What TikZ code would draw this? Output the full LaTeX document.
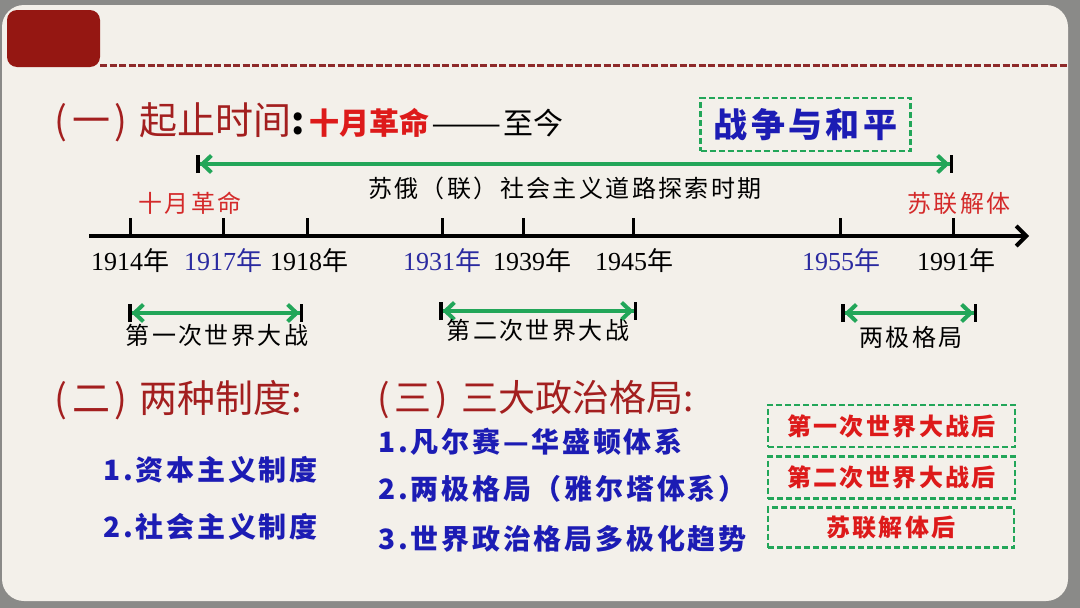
\documentclass[tikz,border=0pt]{standalone}
\usepackage{fontspec}
\setmainfont{Noto Sans CJK SC}
\newfontfamily\numfont{Liberation Serif}
\newfontfamily\widefont[LetterSpace=10]{Noto Sans CJK SC}
\usetikzlibrary{arrows.meta}
\definecolor{pagegray}{HTML}{8A8A88}
\definecolor{slide}{HTML}{F3F0EA}
\definecolor{tagred}{HTML}{951712}
\definecolor{rulered}{HTML}{8E2A2A}
\definecolor{headred}{HTML}{A31F1F}
\definecolor{brightred}{HTML}{DD1A1A}
\definecolor{labelred}{HTML}{D42A2A}
\definecolor{yearblue}{HTML}{2A2AA0}
\definecolor{itemblue}{HTML}{1C1CB4}
\definecolor{spangreen}{HTML}{22A659}
\def\fs#1{\fontsize{#1}{#1}\selectfont}
\def\nian{{\rmfamily 年}}
\def\paren#1{(\kern5pt#1\kern4pt)\hspace{13pt}}
\tikzset{
  head/.style={anchor=west, inner sep=0pt, text=headred, font=\fs{38}},
  item/.style={anchor=west, inner sep=0pt, text=itemblue, font=\fs{28}\widefont\bfseries},
  year/.style={inner sep=0pt, font=\fs{26}\numfont},
  label/.style={inner sep=0pt, font=\fs{24}\widefont},
  tick/.style={line width=3pt},
  axis/.style={line width=4pt, -{Straight Barb[length=10pt,width=20pt]}},
  span/.style={line width=4pt, draw=spangreen,
    {Bar[black,width=18pt,line width=3.5pt]Straight Barb[length=9pt,width=17pt]}-{Straight Barb[length=9pt,width=17pt]Bar[black,width=18pt,line width=3.5pt]}},
  dashbox/.style={draw=spangreen, line width=2.5pt, dash pattern=on 6pt off 3pt, inner sep=0pt}
}

\begin{document}
\begin{tikzpicture}[x=1pt,y=-1pt]
\useasboundingbox (0,0) rectangle (1080,608);
\fill[pagegray] (0,0) rectangle (1080,608);
\fill[slide, rounded corners=22pt] (2,5) rectangle (1068,601);
\node[fill=tagred, rounded corners=10pt, minimum width=93pt, minimum height=57pt, inner sep=0pt] (tag) at (53.5,38.5) {};
\draw[rulered, line width=3pt, dash pattern=on 7pt off 2.5pt] (100,65) -- (1068,65);

% (一) time span
\node[head] (time) at (54,122) {\paren{一}起止时间{\color{black}\bfseries :}\hspace{4pt}{\fs{30}\bfseries\color{brightred}十月革命}{\fs{30}\color{black}\kern2pt\scalebox{1.4}[1]{——}\kern2pt 至今}};
\node[dashbox, minimum width=210pt, minimum height=53pt, text=itemblue, font=\fs{34}\widefont\bfseries] (war) at (805.5,124.5) {战争与和平};

\coordinate (sovA) at (196,164);
\coordinate (sovB) at (953,164);
\draw[span] (sovA) -- (sovB);
\node[label] (sov) at (565,188) {苏俄（联）社会主义道路探索时期};
\node[label, text=labelred] (oct) at (190,203) {十月革命};
\node[label, text=labelred] (ussr) at (959,203) {苏联解体};

% timeline
\coordinate (axL) at (89,236);
\coordinate (axR) at (1029,236);
\draw[axis] (axL) -- (axR);
\coordinate (t1914) at (130,236);
\coordinate (t1917) at (223,236);
\coordinate (t1918) at (307,236);
\coordinate (t1931) at (442,236);
\coordinate (t1939) at (523,236);
\coordinate (t1945) at (633,236);
\coordinate (t1955) at (840,236);
\coordinate (t1991) at (953,236);
\draw[tick] (t1914) -- ++(0,-18);
\draw[tick] (t1917) -- ++(0,-18);
\draw[tick] (t1918) -- ++(0,-18);
\draw[tick] (t1931) -- ++(0,-18);
\draw[tick] (t1939) -- ++(0,-18);
\draw[tick] (t1945) -- ++(0,-18);
\draw[tick] (t1955) -- ++(0,-18);
\draw[tick] (t1991) -- ++(0,-18);
\node[year] (y1914) at (130,261) {1914\nian};
\node[year, text=yearblue] (y1917) at (223,261) {1917\nian};
\node[year] (y1918) at (309,261) {1918\nian};
\node[year, text=yearblue] (y1931) at (442,261) {1931\nian};
\node[year] (y1939) at (532,261) {1939\nian};
\node[year] (y1945) at (634,261) {1945\nian};
\node[year, text=yearblue] (y1955) at (841,261) {1955\nian};
\node[year] (y1991) at (956,261) {1991\nian};

% wars and the two poles
\coordinate (ww1A) at (128,313);
\coordinate (ww1B) at (303,313);
\draw[span] (ww1A) -- (ww1B);
\node[label] (ww1) at (217,335) {第一次世界大战};
\coordinate (ww2A) at (439,311);
\coordinate (ww2B) at (637,311);
\draw[span] (ww2A) -- (ww2B);
\node[label] (ww2) at (538,330) {第二次世界大战};
\coordinate (coldA) at (841,313);
\coordinate (coldB) at (977,313);
\draw[span] (coldA) -- (coldB);
\node[label] (cold) at (911,337) {两极格局};

% (二) and (三)
\node[head] (sys) at (54,400) {\paren{二}两种制度:};
\node[head, font=\fs{37}] (pat) at (377,400) {\paren{三}三大政治格局:};
\node[item] (cap) at (103,470) {1.资本主义制度};
\node[item] (soc) at (103,527) {2.社会主义制度};
\node[item] (vw) at (378,442) {1.凡尔赛—华盛顿体系};
\node[item] (yal) at (378,489) {2.两极格局（雅尔塔体系）};
\node[item] (multi) at (378,539) {3.世界政治格局多极化趋势};
\node[dashbox, minimum width=247pt, minimum height=42pt, text=brightred, font=\fs{24}\widefont\bfseries] (after1) at (891.5,426) {第一次世界大战后};
\node[dashbox, minimum width=247pt, minimum height=42pt, text=brightred, font=\fs{24}\widefont\bfseries] (after2) at (891.5,477.5) {第二次世界大战后};
\node[dashbox, minimum width=246pt, minimum height=40pt, text=brightred, font=\fs{24}\widefont\bfseries] (after3) at (891,527.5) {苏联解体后};
\end{tikzpicture}
\end{document}
